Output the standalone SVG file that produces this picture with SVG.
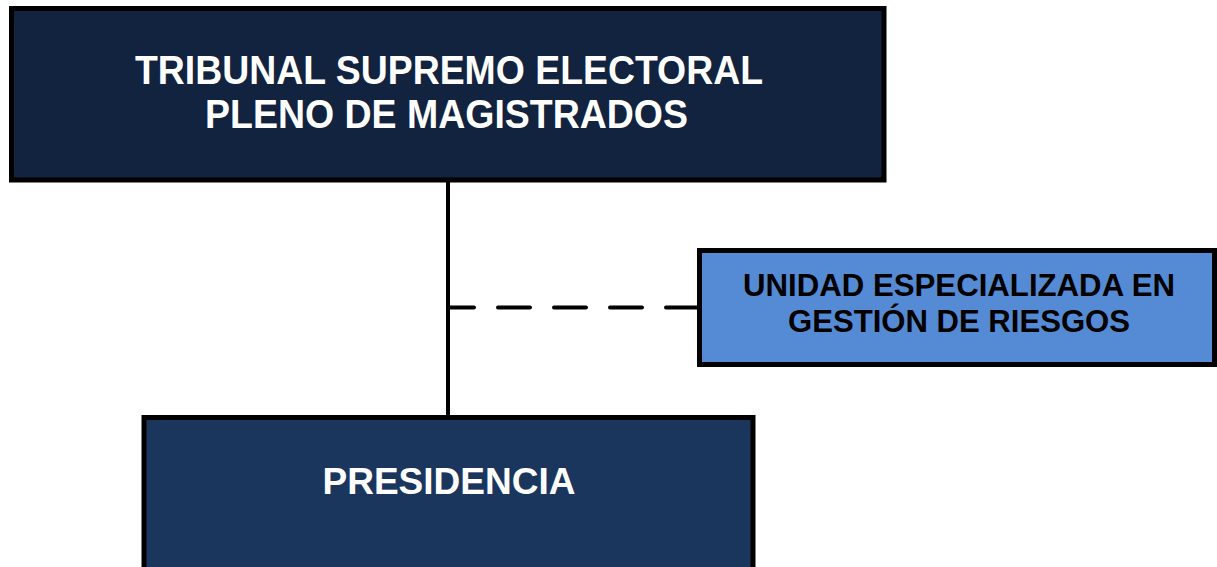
<svg xmlns="http://www.w3.org/2000/svg" width="1217" height="567" viewBox="0 0 1217 567">
<style>
.box{stroke:#000;stroke-width:5}
.t{font-family:"Liberation Sans",Arial,sans-serif;font-weight:bold;text-anchor:middle}
.w{fill:#fff}
.k{fill:#000}
.ln{stroke:#000;stroke-width:4;fill:none}
</style>
<rect width="1217" height="567" fill="#fff"/>
<g id="connectors">
<line class="ln" x1="448" y1="180" x2="448" y2="418"/>
<line class="ln" x1="698" y1="307.5" x2="450" y2="307.5" stroke-dasharray="32 24" stroke-linecap="round"/>
</g>
<g id="node-tribunal">
<rect class="box" x="11.5" y="8.5" width="872.5" height="171.5" fill="#12233F"/>
<text class="t w" x="449" y="84" font-size="40" textLength="628" lengthAdjust="spacingAndGlyphs">TRIBUNAL SUPREMO ELECTORAL</text>
<text class="t w" x="446.5" y="128" font-size="40" textLength="483" lengthAdjust="spacingAndGlyphs">PLENO DE MAGISTRADOS</text>
</g>
<g id="node-unidad">
<rect class="box" x="699.5" y="250.5" width="515" height="114" fill="#558AD5"/>
<text class="t k" x="959" y="296" font-size="31" textLength="432" lengthAdjust="spacingAndGlyphs">UNIDAD ESPECIALIZADA EN</text>
<text class="t k" x="959" y="332" font-size="31" textLength="342" lengthAdjust="spacingAndGlyphs">GESTIÓN DE RIESGOS</text>
</g>
<g id="node-presidencia">
<rect class="box" x="144" y="417.5" width="609" height="170" fill="#1B365D"/>
<text class="t w" x="449" y="494" font-size="36" textLength="253" lengthAdjust="spacingAndGlyphs">PRESIDENCIA</text>
</g>
</svg>
